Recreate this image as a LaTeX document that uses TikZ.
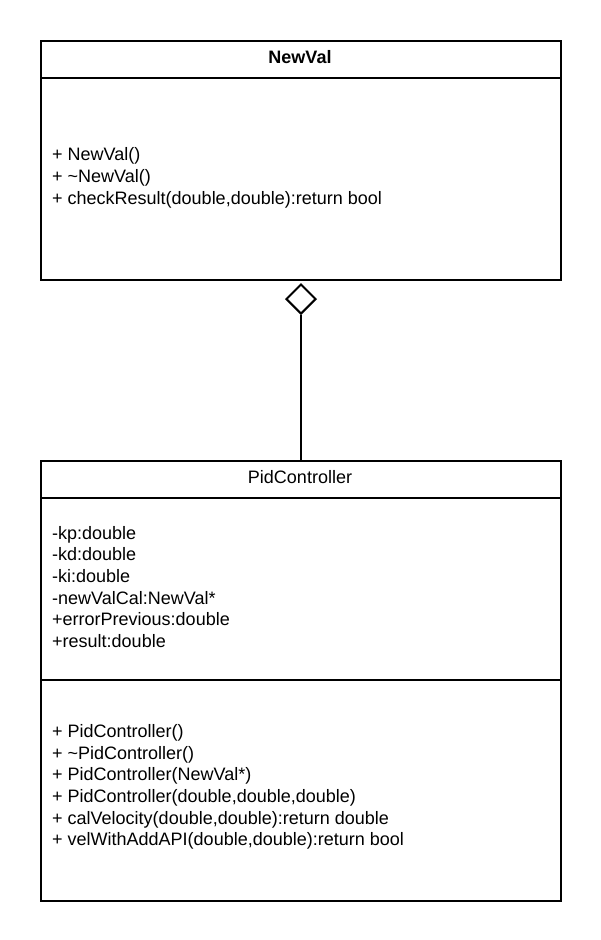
\documentclass[tikz,border=0pt]{standalone}
\usepackage{fontspec}
\setmainfont{Liberation Sans}
\usetikzlibrary{shapes.geometric}
\begin{document}
\begin{tikzpicture}[x=1pt,y=-1pt,
  classbox/.style={draw, line width=2pt, minimum width=520pt, inner sep=0pt, anchor=north west},
  sepline/.style={line width=2pt},
  members/.style={anchor=west, align=left, inner sep=0pt, font=\fontsize{18}{21.7}\selectfont},
  title/.style={inner sep=0pt, font=\fontsize{18}{21.7}\selectfont},
  agg/.style={diamond, draw, line width=2pt, fill=white, minimum width=30pt, minimum height=30pt, inner sep=0pt, anchor=north},
  conn/.style={line width=2pt}]
\useasboundingbox (0,0) rectangle (600,940);
% NewVal class
\node[classbox, minimum height=239pt] (newval) at (40,40) {};
\draw[sepline] (40,78) coordinate (nvl) -- (560,78) coordinate (nvr);
\node[title] (nvtitle) at (300,57) {\textbf{NewVal}};
\node[members] (nvops) at (52,178) {+ NewVal()\\+ \textasciitilde NewVal()\\+ checkResult(double,double):return bool};
% PidController class
\node[classbox, minimum height=440pt] (pid) at (40,460) {};
\draw[sepline] (40,498) coordinate (pl1) -- (560,498) coordinate (pr1);
\draw[sepline] (40,680) coordinate (pl2) -- (560,680) coordinate (pr2);
\node[title] (pidtitle) at (300,477) {PidController};
\node[members] (pidattr) at (52,587) {-kp:double\\-kd:double\\-ki:double\\-newValCal:NewVal*\\+errorPrevious:double\\+result:double};
\node[members] (pidops) at (52,787) {+ PidController()\\+ \textasciitilde PidController()\\+ PidController(NewVal*)\\+ PidController(double,double,double)\\+ calVelocity(double,double):return double\\+ velWithAddAPI(double,double):return bool};
% aggregation
\node[agg] (dia) at ([yshift=-2pt]newval.south) {};
\draw[conn] (dia.south) -- (pid.north);
\end{tikzpicture}
\end{document}
